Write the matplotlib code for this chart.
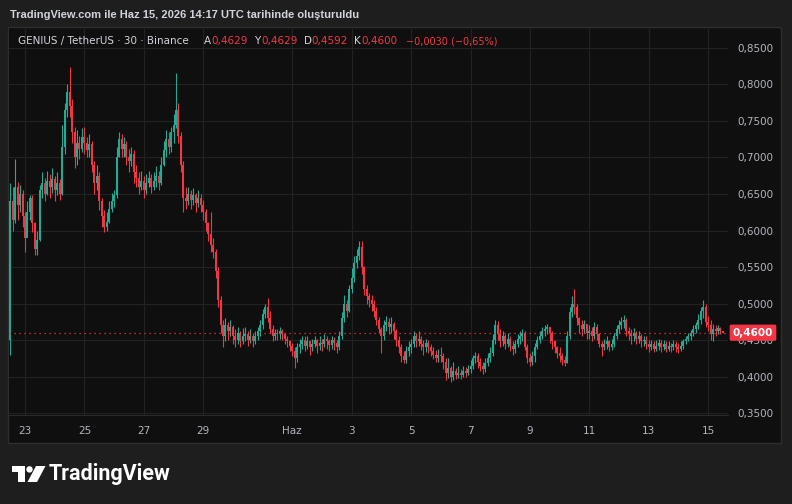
import numpy as np
import matplotlib.pyplot as plt
from matplotlib.patches import Rectangle, Polygon, Circle
import matplotlib.transforms as mtransforms

# GENIUS/USDT, read off the snapshot at 2h steps starting 22 May 12:00
# prices in thousandths of USDT, one row per day (12 candles)
closes = [
    640, 615, 660, 635, 650, 620,
    590, 625, 645, 610, 575, 587, 655, 665, 650, 668, 660, 670,
    655, 665, 650, 715, 765, 790, 770, 735, 700, 720, 712, 728,
    720, 710, 718, 690, 665, 675, 640, 620, 605, 612, 630, 640,
    648, 700, 725, 712, 718, 700, 695, 705, 680, 672, 660, 668,
    655, 665, 672, 660, 668, 675, 665, 690, 710, 725, 715, 735,
    745, 765, 730, 690, 645, 640, 650, 642, 648, 638, 645, 635,
    625, 610, 595, 580, 570, 545, 505, 470, 455, 470, 462, 468,
    455, 450, 460, 448, 455, 458, 450, 455, 448, 455, 462, 470,
    485, 495, 480, 465, 455, 460, 458, 462, 458, 452, 448, 442,
    435, 425, 440, 445, 450, 442, 448, 440, 445, 450, 442, 446,
    445, 452, 448, 443, 450, 446, 440, 455, 480, 500, 490, 520,
    535, 555, 565, 578, 550, 520, 510, 505, 500, 490, 478, 465,
    455, 470, 475, 468, 472, 462, 450, 440, 428, 422, 435, 440,
    445, 455, 448, 452, 445, 440, 446, 440, 435, 430, 426, 430,
    428, 420, 405, 412, 400, 408, 402, 405, 402, 408, 405, 410,
    415, 425, 428, 420, 415, 410, 418, 425, 432, 450, 470, 458,
    448, 455, 445, 452, 442, 438, 445, 452, 455, 460, 440, 425,
    420, 428, 440, 450, 455, 462, 465, 468, 460, 448, 440, 432,
    428, 422, 418, 455, 488, 500, 495, 480, 470, 465, 472, 460,
    462, 455, 468, 458, 445, 440, 445, 448, 440, 445, 455, 465,
    470, 475, 478, 462, 458, 455, 460, 452, 455, 448, 450, 445,
    440, 445, 438, 442, 446, 440, 444, 438, 442, 440, 445, 440,
    438, 442, 448, 452, 455, 460, 465, 470, 478, 490, 495, 475,
    470, 458, 465, 462, 466, 463, 460,
]
highs = [
    665, 660, 698, 667, 662, 655,
    625, 640, 649, 648, 612, 600, 662, 680, 672, 682, 678, 685,
    675, 680, 670, 745, 775, 800, 824, 780, 742, 738, 730, 740,
    742, 728, 732, 722, 695, 690, 680, 645, 628, 625, 640, 652,
    655, 715, 735, 732, 728, 722, 712, 715, 710, 690, 680, 682,
    675, 678, 682, 678, 680, 688, 682, 700, 722, 737, 735, 742,
    760, 816, 775, 735, 695, 660, 660, 655, 658, 652, 655, 650,
    642, 630, 612, 625, 590, 575, 550, 510, 478, 480, 475, 478,
    470, 465, 468, 462, 466, 468, 462, 465, 460, 462, 468, 478,
    492, 500, 507, 490, 470, 465, 465, 468, 465, 460, 455, 450,
    446, 440, 446, 452, 456, 455, 455, 450, 452, 456, 452, 455,
    452, 458, 456, 452, 456, 454, 450, 462, 488, 512, 505, 525,
    548, 565, 575, 585, 585, 552, 525, 515, 512, 505, 495, 482,
    468, 478, 483, 480, 482, 475, 465, 455, 445, 435, 442, 448,
    452, 463, 460, 462, 455, 450, 452, 450, 445, 440, 436, 438,
    440, 432, 425, 425, 415, 420, 412, 414, 410, 415, 413, 416,
    422, 430, 434, 432, 425, 420, 425, 432, 440, 458, 477, 476,
    465, 463, 458, 460, 455, 448, 450, 458, 462, 465, 462, 445,
    432, 435, 446, 456, 462, 468, 471, 472, 468, 462, 450, 442,
    440, 432, 428, 462, 495, 510, 520, 500, 482, 478, 478, 472,
    470, 468, 475, 472, 460, 448, 452, 455, 450, 452, 460, 470,
    478, 482, 484, 480, 468, 465, 466, 463, 462, 458, 456, 455,
    450, 450, 448, 450, 452, 450, 450, 448, 448, 446, 450, 448,
    446, 448, 452, 456, 460, 464, 470, 475, 485, 495, 505, 500,
    483, 478, 472, 470, 470, 468, 463,
]
lows = [
    430, 600, 610, 615, 625, 605,
    570, 600, 615, 598, 566, 566, 585, 645, 640, 648, 645, 652,
    640, 648, 642, 648, 705, 755, 755, 720, 685, 690, 698, 708,
    705, 700, 700, 680, 650, 655, 628, 605, 598, 600, 610, 625,
    632, 645, 700, 700, 700, 690, 680, 688, 665, 660, 650, 655,
    645, 650, 660, 652, 655, 660, 655, 662, 688, 700, 705, 708,
    720, 740, 720, 680, 625, 630, 635, 630, 635, 625, 632, 625,
    615, 600, 585, 570, 562, 535, 495, 460, 440, 448, 450, 455,
    445, 440, 444, 440, 445, 448, 442, 446, 440, 444, 450, 455,
    465, 480, 475, 460, 448, 450, 450, 452, 450, 444, 440, 435,
    428, 412, 420, 432, 438, 435, 438, 430, 435, 440, 432, 436,
    435, 440, 438, 435, 438, 436, 432, 436, 452, 475, 482, 488,
    515, 530, 548, 560, 540, 512, 500, 495, 490, 482, 470, 460,
    432, 450, 462, 458, 460, 452, 442, 432, 420, 418, 418, 428,
    432, 440, 440, 442, 436, 430, 434, 432, 428, 424, 420, 420,
    420, 410, 395, 398, 393, 395, 396, 398, 396, 400, 399, 402,
    405, 410, 418, 412, 408, 404, 406, 414, 420, 428, 445, 450,
    440, 442, 438, 440, 435, 430, 432, 440, 445, 448, 436, 418,
    414, 416, 420, 438, 446, 452, 456, 458, 446, 438, 432, 426,
    420, 416, 414, 418, 452, 482, 485, 470, 460, 455, 460, 452,
    452, 448, 452, 450, 440, 428, 436, 438, 435, 436, 440, 452,
    460, 465, 466, 455, 450, 445, 448, 445, 446, 440, 442, 438,
    434, 436, 433, 435, 437, 434, 436, 433, 435, 433, 436, 434,
    432, 435, 438, 444, 448, 450, 455, 460, 465, 472, 480, 468,
    462, 450, 448, 455, 458, 458, 459,
]
first_open = 450
last_price = 0.46

day_ticks = [1, 3, 5, 7, 10, 12, 14, 16, 18, 20, 22, 24]
day_labels = ["23", "25", "27", "29", "Haz", "3", "5", "7", "9", "11", "13", "15"]
price_ticks = [0.35, 0.40, 0.45, 0.50, 0.55, 0.60, 0.65, 0.70, 0.75, 0.80, 0.85]

title = "TradingView.com ile Haz 15, 2026 14:17 UTC tarihinde oluşturuldu"
legend_name = "GENIUS / TetherUS · 30 · Binance"
legend_ohlc = [("A", "0,4629"), ("Y", "0,4629"), ("D", "0,4592"), ("K", "0,4600")]
legend_change = "−0,0030 (−0,65%)"

UP = "#22ab94"
DOWN = "#f23645"
TXT = "#d1d4dc"
AX_TXT = "#b2b5be"

c = np.array(closes) / 1000.0
h = np.array(highs) / 1000.0
l = np.array(lows) / 1000.0
o = np.concatenate([[first_open / 1000.0], c[:-1]])
t = 0.5 + np.arange(len(c)) / 12.0  # days since 22 May 00:00

W, H = 792, 504
fig = plt.figure(figsize=(W / 100, H / 100), dpi=100, facecolor="#1e1e1e")

def fx(px):
    return px / W

def fy(py):
    return 1 - py / H

# chart panel (behind the axes)
fig.patches.append(Rectangle((fx(8), fy(443)), fx(781) - fx(8), fy(27) - fy(443),
                             transform=fig.transFigure, facecolor="#0f0f0f",
                             edgecolor="#2e2e2e", lw=1, zorder=-5))

ax = fig.add_axes([fx(9), fy(415), fx(728) - fx(9), fy(29) - fy(415)])
ax.set_facecolor("#0f0f0f")
ax.set_xlim(0.461, 24.67)
ax.set_ylim(0.3473, 0.876)

up = c >= o
cols = np.where(up, UP, DOWN)
ax.vlines(t, l, h, colors=cols, lw=0.8, zorder=3)
body_lo = np.minimum(o, c)
body_h = np.maximum(np.abs(c - o), 0.0012)
ax.bar(t, body_h, bottom=body_lo, width=0.8 / 12, color=cols, lw=0, zorder=3)

ax.axhline(last_price, color=DOWN, lw=0.9, ls=(0, (1, 3)), zorder=4)

ax.set_xticks(day_ticks)
ax.set_xticklabels(day_labels)
ax.set_yticks(price_ticks)
ax.set_yticklabels([f"{v:.4f}".replace(".", ",") for v in price_ticks])
ax.yaxis.tick_right()
ax.tick_params(axis="both", length=0, colors=AX_TXT, labelsize=7.5)
ax.tick_params(axis="y", pad=7)
ax.tick_params(axis="x", pad=8)
ax.grid(True, color="#222222", lw=0.8, zorder=0)
for s in ["top", "left", "right"]:
    ax.spines[s].set_visible(False)
ax.spines["bottom"].set_color("#2a2a2a")

# last price tag
tr = mtransforms.blended_transform_factory(ax.transAxes, ax.transData)
ax.text((753 - 9) / 719, last_price, "0,4600", transform=tr, ha="center", va="center",
        color="white", fontsize=7.5, fontweight="bold", clip_on=False, zorder=10,
        bbox=dict(boxstyle="round,pad=0.3,rounding_size=0.15", fc=DOWN, ec="none"))

# header texts
fig.text(fx(10), fy(15), title, color=TXT, fontsize=8, fontweight="bold",
         family="Liberation Sans", va="center")
fig.text(fx(18), fy(41), legend_name, color=TXT, fontsize=7.5, va="center")
xs = [204, 254, 304, 354]
for x0, (k, v) in zip(xs, legend_ohlc):
    fig.text(fx(x0), fy(41), k, color=TXT, fontsize=7.5, va="center")
    fig.text(fx(x0 + 7), fy(41), v, color=DOWN, fontsize=7.5, va="center")
fig.text(fx(406), fy(41), legend_change, color=DOWN, fontsize=7, va="center")

# TradingView logo
lax = fig.add_axes([fx(12), fy(482), fx(46) - fx(12), fy(466) - fy(482)])
lax.set_xlim(0, 34)
lax.set_ylim(0, 16)
lax.axis("off")
lax.add_patch(Polygon([(0, 16), (13, 16), (13, 0), (6, 0), (6, 10), (0, 10)], fc="white", ec="none"))
lax.add_patch(Circle((17.5, 12.6), 3.2, fc="white", ec="none"))
lax.add_patch(Polygon([(24, 16), (33.5, 16), (25, 0), (15.5, 0)], fc="white", ec="none"))
fig.text(fx(49), fy(474), "TradingView", color="white", fontsize=15.5, fontweight="bold",
         family="Roboto", va="center")

fig.savefig("out.png", dpi=100, facecolor=fig.get_facecolor())
